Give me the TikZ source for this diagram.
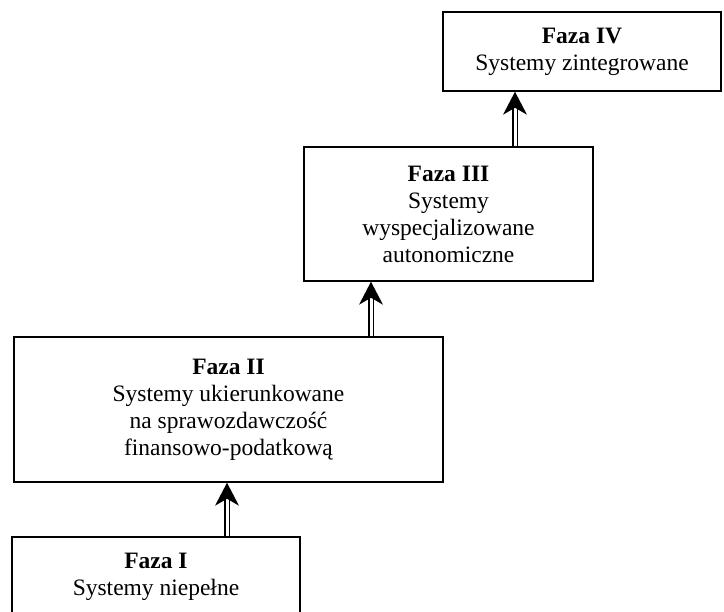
\documentclass[tikz,border=0pt]{standalone}
\usepackage{fontspec}
\setmainfont{Liberation Serif}
\usetikzlibrary{calc}
\begin{document}
\begin{tikzpicture}[x=1pt,y=1pt,
  phase/.style={draw, line width=1.5pt, inner sep=0pt, align=center,
    font=\fontsize{23.5}{27}\selectfont},
  dbl/.style={double, double distance=3pt, line width=1.8pt},
  tip/.style={fill=black}]
\useasboundingbox (0,0) rectangle (724,612);
\clip (0,0) rectangle (724,612);
\fill[white] (0,0) rectangle (724,612);
\node[phase, minimum width=288pt, minimum height=79pt] (f1) at (156,35.5)
  {\textbf{Faza I}\\Systemy niepełne};
\node[phase, minimum width=429pt, minimum height=145pt] (f2) at (228.5,202.5)
  {\textbf{Faza II}\\Systemy ukierunkowane\\na sprawozdawczość\\finansowo-podatkową};
\node[phase, minimum width=289pt, minimum height=134pt] (f3) at (448.5,398)
  {\textbf{Faza III}\\Systemy\\wyspecjalizowane\\autonomiczne};
\node[phase, minimum width=278pt, minimum height=79pt] (f4) at (582,560.5)
  {\textbf{Faza IV}\\Systemy zintegrowane};
\coordinate (xa) at (227,0);
\coordinate (xb) at (371,0);
\coordinate (xc) at (515,0);
\coordinate (ta) at (f2.south -| xa);
\coordinate (tb) at (f3.south -| xb);
\coordinate (tc) at (f4.south -| xc);
\draw[dbl] (f1.north -| xa) -- ($(ta)+(0,-14)$);
\draw[dbl] (f2.north -| xb) -- ($(tb)+(0,-14)$);
\draw[dbl] (f3.north -| xc) -- ($(tc)+(0,-14)$);
\fill[tip] (ta) -- ++(-12,-23) -- ++(12,7) -- ++(12,-7) -- cycle;
\fill[tip] (tb) -- ++(-12,-23) -- ++(12,7) -- ++(12,-7) -- cycle;
\fill[tip] (tc) -- ++(-12,-23) -- ++(12,7) -- ++(12,-7) -- cycle;
\end{tikzpicture}
\end{document}
